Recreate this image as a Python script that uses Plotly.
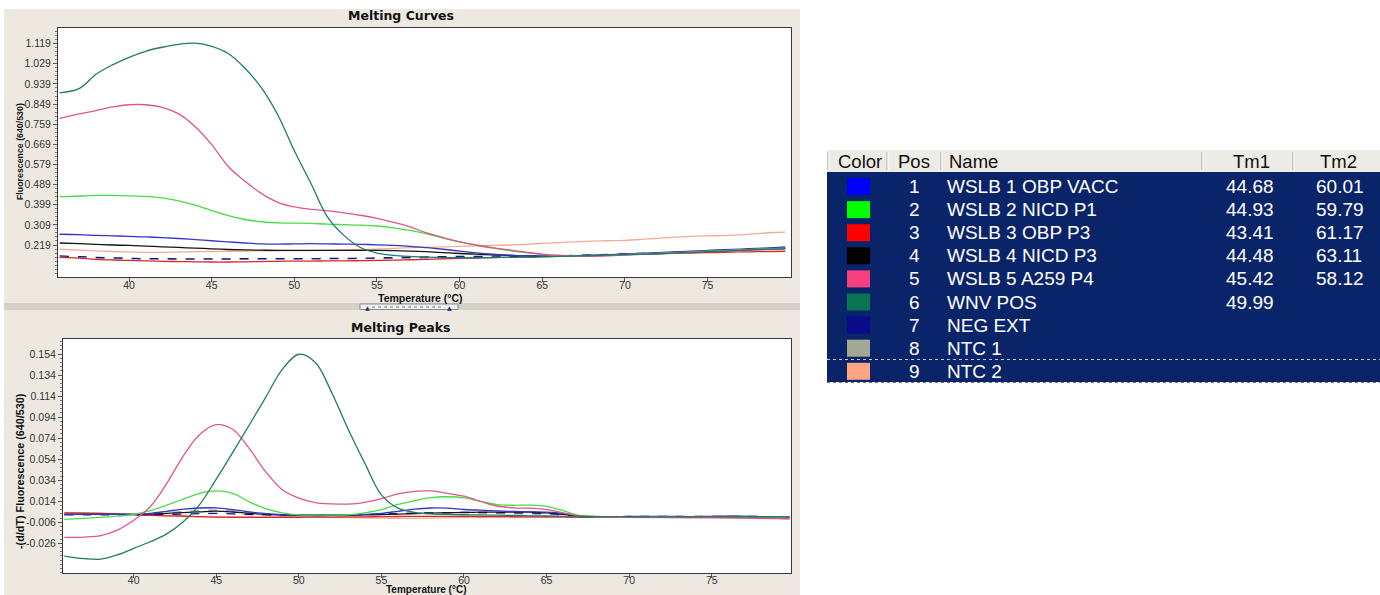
import plotly.graph_objects as go

# ---------------------------------------------------------------- data
temps = [35.8, 37, 38, 39, 40, 41, 42, 43, 44, 45,
         46, 47, 48, 49, 50, 51, 52, 53, 54, 55,
         56, 57, 58, 59, 60, 61, 62, 63, 64, 65,
         66, 67, 68, 69, 70, 71, 72, 73, 74, 75,
         76, 77, 78, 79, 79.7]

sample_pos = [1, 2, 3, 4, 5, 6, 7, 8, 9]
sample_names = ["WSLB 1 OBP VACC", "WSLB 2 NICD P1", "WSLB 3 OBP P3",
                "WSLB 4 NICD P3", "WSLB 5 A259 P4", "WNV POS",
                "NEG EXT", "NTC 1", "NTC 2"]
tm1_values = ["44.68", "44.93", "43.41", "44.48", "45.42", "49.99", "", "", ""]
tm2_values = ["60.01", "59.79", "61.17", "63.11", "58.12", "", "", "", ""]

# fluorescence (640/530) melting curves
curve_obp_vacc = [0.267, 0.265, 0.262, 0.260, 0.258, 0.255, 0.252, 0.248, 0.243, 0.238,
                  0.233, 0.228, 0.224, 0.223, 0.224, 0.225, 0.224, 0.223, 0.222, 0.220,
                  0.217, 0.213, 0.207, 0.200, 0.192, 0.184, 0.178, 0.174, 0.171, 0.170,
                  0.170, 0.171, 0.173, 0.176, 0.179, 0.182, 0.185, 0.188, 0.191, 0.195,
                  0.198, 0.201, 0.204, 0.207, 0.210]
curve_nicd_p1 = [0.434, 0.438, 0.441, 0.441, 0.439, 0.436, 0.430, 0.416, 0.397, 0.373,
                 0.350, 0.333, 0.323, 0.318, 0.317, 0.316, 0.312, 0.310, 0.308, 0.304,
                 0.296, 0.284, 0.269, 0.250, 0.233, 0.217, 0.205, 0.194, 0.185, 0.177,
                 0.172, 0.170, 0.171, 0.173, 0.176, 0.179, 0.182, 0.185, 0.188, 0.191,
                 0.194, 0.197, 0.200, 0.203, 0.205]
curve_obp_p3 = [0.165, 0.160, 0.155, 0.152, 0.150, 0.148, 0.146, 0.145, 0.144, 0.143,
                0.143, 0.144, 0.145, 0.146, 0.147, 0.147, 0.148, 0.148, 0.149, 0.150,
                0.151, 0.153, 0.155, 0.157, 0.159, 0.161, 0.163, 0.164, 0.166, 0.167,
                0.169, 0.171, 0.173, 0.175, 0.177, 0.178, 0.180, 0.182, 0.183, 0.185,
                0.186, 0.188, 0.189, 0.190, 0.191]
curve_nicd_p3 = [0.228, 0.225, 0.222, 0.219, 0.217, 0.214, 0.211, 0.208, 0.205, 0.202,
                 0.199, 0.197, 0.196, 0.195, 0.195, 0.195, 0.195, 0.195, 0.195, 0.195,
                 0.194, 0.192, 0.189, 0.185, 0.181, 0.178, 0.175, 0.172, 0.170, 0.168,
                 0.168, 0.169, 0.171, 0.173, 0.176, 0.179, 0.182, 0.184, 0.187, 0.190,
                 0.193, 0.196, 0.199, 0.202, 0.205]
curve_a259 = [0.785, 0.805, 0.820, 0.836, 0.846, 0.846, 0.834, 0.805, 0.748, 0.668,
              0.570, 0.505, 0.450, 0.410, 0.389, 0.378, 0.372, 0.363, 0.352, 0.338,
              0.320, 0.300, 0.273, 0.252, 0.233, 0.219, 0.207, 0.197, 0.187, 0.178,
              0.172, 0.169, 0.169, 0.171, 0.174, 0.177, 0.180, 0.183, 0.186, 0.189,
              0.192, 0.195, 0.198, 0.201, 0.203]
curve_wnv = [0.899, 0.919, 0.982, 1.024, 1.058, 1.085, 1.103, 1.116, 1.121, 1.107,
             1.075, 1.010, 0.922, 0.800, 0.640, 0.495, 0.345, 0.262, 0.208, 0.183,
             0.173, 0.168, 0.165, 0.163, 0.162, 0.162, 0.163, 0.164, 0.165, 0.166,
             0.168, 0.170, 0.172, 0.174, 0.176, 0.178, 0.180, 0.183, 0.186, 0.189,
             0.192, 0.195, 0.198, 0.200, 0.202]
curve_neg_ext = [0.170, 0.167, 0.164, 0.162, 0.160, 0.158, 0.158, 0.157, 0.157, 0.157,
                 0.157, 0.158, 0.158, 0.158, 0.158, 0.158, 0.159, 0.159, 0.160, 0.161,
                 0.163, 0.164, 0.166, 0.167, 0.168, 0.168, 0.169, 0.169, 0.170, 0.170,
                 0.171, 0.173, 0.175, 0.177, 0.179, 0.182, 0.184, 0.187, 0.189, 0.192,
                 0.195, 0.197, 0.200, 0.203, 0.205]
curve_ntc1 = [0.163, 0.161, 0.159, 0.158, 0.157, 0.156, 0.156, 0.155, 0.155, 0.155,
              0.155, 0.155, 0.156, 0.156, 0.156, 0.157, 0.157, 0.157, 0.158, 0.158,
              0.159, 0.160, 0.161, 0.162, 0.162, 0.163, 0.164, 0.165, 0.166, 0.167,
              0.169, 0.171, 0.173, 0.175, 0.178, 0.180, 0.183, 0.185, 0.188, 0.191,
              0.194, 0.196, 0.199, 0.201, 0.203]
curve_ntc2 = [0.200, 0.196, 0.193, 0.190, 0.188, 0.186, 0.186, 0.188, 0.189, 0.190,
              0.191, 0.192, 0.193, 0.193, 0.194, 0.194, 0.195, 0.197, 0.199, 0.201,
              0.204, 0.207, 0.209, 0.211, 0.213, 0.215, 0.217, 0.219, 0.222, 0.226,
              0.230, 0.233, 0.236, 0.238, 0.240, 0.244, 0.249, 0.254, 0.258, 0.260,
              0.261, 0.264, 0.270, 0.275, 0.277]

# -(d/dT) fluorescence (640/530) melting peaks
peak_obp_vacc = [0.0015, 0.0015, 0.0015, 0.0015, 0.0015, 0.0025, 0.0045, 0.0065, 0.0076, 0.0077,
                 0.0060, 0.0040, 0.0022, 0.0012, 0.0009, 0.0010, 0.0011, 0.0013, 0.0016, 0.0025,
                 0.0045, 0.0065, 0.0076, 0.0074, 0.0062, 0.0055, 0.0048, 0.0043, 0.0040, 0.0037,
                 0.0025, 0.0002, -0.0006, -0.0006, -0.0005, -0.0004, -0.0004, -0.0005, -0.0006, -0.0003,
                 -0.0002, -0.0003, -0.0006, -0.0008, -0.0009]
peak_nicd_p1 = [-0.0032, -0.0022, -0.0013, -0.0002, 0.0015, 0.0050, 0.0104, 0.0160, 0.0215, 0.0238,
                0.0215, 0.0135, 0.0070, 0.0030, 0.0010, 0.0008, 0.0009, 0.0012, 0.0030, 0.0060,
                0.0110, 0.0145, 0.0175, 0.0183, 0.0172, 0.0140, 0.0108, 0.0102, 0.0104, 0.0092,
                0.0050, 0.0005, -0.0005, -0.0007, -0.0008, -0.0008, -0.0009, -0.0008, -0.0008, -0.0009,
                -0.0010, -0.0010, -0.0011, -0.0012, -0.0013]
peak_obp_p3 = [0.0030, 0.0028, 0.0024, 0.0020, 0.0012, 0.0006, 0.0002, 0.0000, -0.0006, -0.0010,
               -0.0012, -0.0013, -0.0013, -0.0012, -0.0012, -0.0011, -0.0010, -0.0009, -0.0008, -0.0006,
               -0.0005, -0.0004, -0.0003, -0.0003, -0.0004, -0.0005, -0.0006, -0.0007, -0.0008, -0.0008,
               -0.0009, -0.0010, -0.0010, -0.0010, -0.0010, -0.0011, -0.0011, -0.0012, -0.0012, -0.0012,
               -0.0014, -0.0016, -0.0020, -0.0023, -0.0025]
peak_nicd_p3 = [0.0015, 0.0015, 0.0015, 0.0015, 0.0015, 0.0018, 0.0025, 0.0033, 0.0040, 0.0046,
                0.0038, 0.0025, 0.0015, 0.0009, 0.0005, 0.0004, 0.0005, 0.0007, 0.0010, 0.0014,
                0.0018, 0.0022, 0.0027, 0.0031, 0.0034, 0.0036, 0.0037, 0.0038, 0.0036, 0.0030,
                0.0015, -0.0003, -0.0008, -0.0009, -0.0009, -0.0010, -0.0010, -0.0009, -0.0009, -0.0010,
                -0.0011, -0.0011, -0.0012, -0.0013, -0.0014]
peak_a259 = [-0.0203, -0.0200, -0.0187, -0.0135, -0.0040, 0.0088, 0.0310, 0.0570, 0.0775, 0.0868,
             0.0825, 0.0640, 0.0420, 0.0250, 0.0170, 0.0128, 0.0115, 0.0113, 0.0130, 0.0165,
             0.0210, 0.0235, 0.0238, 0.0215, 0.0188, 0.0140, 0.0095, 0.0078, 0.0074, 0.0060,
             0.0030, 0.0000, -0.0010, -0.0012, -0.0013, -0.0013, -0.0014, -0.0014, -0.0015, -0.0016,
             -0.0017, -0.0018, -0.0020, -0.0022, -0.0024]
peak_wnv = [-0.0381, -0.0405, -0.0410, -0.0370, -0.0308, -0.0245, -0.0170, -0.0055, 0.0110, 0.0350,
            0.0605, 0.0865, 0.1130, 0.1395, 0.1538, 0.1460, 0.1170, 0.0820, 0.0500, 0.0200,
            0.0075, 0.0035, 0.0020, 0.0015, 0.0012, 0.0010, 0.0008, 0.0005, 0.0002, 0.0000,
            -0.0003, -0.0005, -0.0006, -0.0006, -0.0007, -0.0007, -0.0008, -0.0007, -0.0007, -0.0006,
            -0.0005, -0.0005, -0.0006, -0.0008, -0.0010]
peak_neg_ext = [0.0012, 0.0012, 0.0012, 0.0012, 0.0012, 0.0013, 0.0015, 0.0018, 0.0022, 0.0024,
                0.0020, 0.0014, 0.0010, 0.0008, 0.0008, 0.0009, 0.0010, 0.0012, 0.0014, 0.0017,
                0.0021, 0.0025, 0.0029, 0.0032, 0.0034, 0.0034, 0.0033, 0.0031, 0.0028, 0.0024,
                0.0012, -0.0002, -0.0006, -0.0006, -0.0005, -0.0005, -0.0004, -0.0004, -0.0003, -0.0003,
                -0.0003, -0.0004, -0.0005, -0.0007, -0.0008]
peak_ntc1 = [0.0018, 0.0017, 0.0016, 0.0016, 0.0016, 0.0020, 0.0030, 0.0042, 0.0052, 0.0056,
             0.0048, 0.0034, 0.0022, 0.0014, 0.0010, 0.0009, 0.0010, 0.0012, 0.0015, 0.0020,
             0.0026, 0.0030, 0.0032, 0.0032, 0.0030, 0.0027, 0.0024, 0.0022, 0.0020, 0.0016,
             0.0008, -0.0002, -0.0005, -0.0006, -0.0006, -0.0007, -0.0007, -0.0007, -0.0008, -0.0008,
             -0.0008, -0.0009, -0.0010, -0.0011, -0.0012]
peak_ntc2 = [0.0035, 0.0033, 0.0028, 0.0022, 0.0015, 0.0008, 0.0002, -0.0005, -0.0008, -0.0010,
             -0.0010, -0.0009, -0.0009, -0.0008, -0.0008, -0.0009, -0.0011, -0.0015, -0.0018, -0.0021,
             -0.0022, -0.0022, -0.0020, -0.0017, -0.0014, -0.0012, -0.0010, -0.0010, -0.0011, -0.0012,
             -0.0012, -0.0012, -0.0013, -0.0013, -0.0014, -0.0015, -0.0016, -0.0017, -0.0018, -0.0018,
             -0.0019, -0.0020, -0.0023, -0.0027, -0.0030]

curve_ticks = ["0.219", "0.309", "0.399", "0.489", "0.579", "0.669",
               "0.759", "0.849", "0.939", "1.029", "1.119"]
peak_ticks = ["-0.026", "-0.006", "0.014", "0.034", "0.054",
              "0.074", "0.094", "0.114", "0.134", "0.154"]
temp_ticks = ["40", "45", "50", "55", "60", "65", "70", "75"]

curves = [curve_obp_vacc, curve_nicd_p1, curve_obp_p3, curve_nicd_p3, curve_a259,
          curve_wnv, curve_neg_ext, curve_ntc1, curve_ntc2]
peaks = [peak_obp_vacc, peak_nicd_p1, peak_obp_p3, peak_nicd_p3, peak_a259,
         peak_wnv, peak_neg_ext, peak_ntc1, peak_ntc2]

# ---------------------------------------------------------------- styles
W, H = 1380, 595
line_colors = ["#3535c8", "#45dd45", "#d82828", "#151515", "#e0558e",
               "#217a69", "#14148c", "#9a9a9a", "#f2ab98"]
swatch_colors = ["#0000ff", "#00ff00", "#ff0000", "#000000", "#f8407f",
                 "#0a7552", "#0a0a8c", "#a2a894", "#ffa585"]
line_dash = ["solid", "solid", "solid", "solid", "solid",
             "solid", "dash", "dash", "solid"]
draw_order = [7, 8, 2, 6, 3, 0, 1, 4, 5]

PANEL = "#ede9e1"
NAVY = "#0a246a"
TXT = "Liberation Sans, Arial, sans-serif"


def fx(x):
    return x / W


def fy(y):
    return 1 - y / H


fig = go.Figure()

for i in draw_order:
    fig.add_trace(go.Scatter(
        x=temps, y=curves[i], mode="lines", name=sample_names[i],
        line=dict(color=line_colors[i], width=1.3, dash=line_dash[i],
                  shape="spline", smoothing=1.0),
        xaxis="x", yaxis="y", showlegend=False))
for i in draw_order:
    fig.add_trace(go.Scatter(
        x=temps, y=peaks[i], mode="lines", name=sample_names[i],
        line=dict(color=line_colors[i], width=1.3, dash=line_dash[i],
                  shape="spline", smoothing=1.0),
        xaxis="x2", yaxis="y2", showlegend=False))

axis_common = dict(showline=True, mirror=True, linecolor="#3a3a3a", linewidth=1,
                   ticks="outside", ticklen=4, tickcolor="#555555",
                   tickfont=dict(family=TXT, size=10.5, color="#333333"),
                   showgrid=False, zeroline=False, fixedrange=True)

temp_vals = [float(t) for t in temp_ticks]

fig.update_layout(
    width=W, height=H,
    margin=dict(l=0, r=0, t=0, b=0),
    paper_bgcolor="white", plot_bgcolor="rgba(0,0,0,0)",
    xaxis=dict(domain=[fx(58), fx(791)], range=[35.7, 80.05], anchor="y",
               tickmode="array", tickvals=temp_vals, ticktext=temp_ticks,
               ticklabelstandoff=-6, **axis_common),
    yaxis=dict(domain=[fy(277), fy(28)], range=[0.076, 1.189], anchor="x",
               tickmode="array", tickvals=[float(t) for t in curve_ticks],
               ticktext=curve_ticks,
               minor=dict(ticks="outside", ticklen=2, tickcolor="#777777",
                          tickmode="linear", tick0=0.219, dtick=0.018),
               **axis_common),
    xaxis2=dict(domain=[fx(63), fx(791)], range=[35.72, 79.8], anchor="y2",
                tickmode="array", tickvals=temp_vals, ticktext=temp_ticks,
                ticklabelstandoff=-7, **axis_common),
    yaxis2=dict(domain=[fy(573), fy(339)], range=[-0.0542, 0.1683], anchor="x2",
                tickmode="array", tickvals=[float(t) for t in peak_ticks],
                ticktext=peak_ticks,
                minor=dict(ticks="outside", ticklen=2, tickcolor="#777777",
                           tickmode="linear", tick0=0.014, dtick=0.004),
                **axis_common),
)

shapes = []
# window panels and white plotting areas
shapes.append(dict(type="rect", xref="paper", yref="paper", layer="below",
                   x0=fx(4), x1=fx(800), y0=fy(595), y1=fy(9),
                   fillcolor=PANEL, line=dict(width=0)))
shapes.append(dict(type="rect", xref="paper", yref="paper", layer="below",
                   x0=fx(58), x1=fx(791), y0=fy(277), y1=fy(28),
                   fillcolor="white", line=dict(width=0)))
shapes.append(dict(type="rect", xref="paper", yref="paper", layer="below",
                   x0=fx(63), x1=fx(791), y0=fy(573), y1=fy(339),
                   fillcolor="white", line=dict(width=0)))
# splitter between the two charts
shapes.append(dict(type="rect", xref="paper", yref="paper", layer="below",
                   x0=fx(4), x1=fx(800), y0=fy(310), y1=fy(303),
                   fillcolor="#d5d1c9", line=dict(width=0)))
shapes.append(dict(type="rect", xref="paper", yref="paper", layer="below",
                   x0=fx(360), x1=fx(458), y0=fy(309.5), y1=fy(304),
                   fillcolor="#f2f0ea", line=dict(color="#8a8a8a", width=1)))
shapes.append(dict(type="line", xref="paper", yref="paper",
                   x0=fx(372), x1=fx(444), y0=fy(307), y1=fy(307),
                   line=dict(color="#4a5aa0", width=0.8, dash="dot")))

# sample table
shapes.append(dict(type="rect", xref="paper", yref="paper", layer="below",
                   x0=fx(827), x1=fx(1380), y0=fy(172), y1=fy(150),
                   fillcolor="#ecebe5", line=dict(width=0)))
for xs in [828, 887, 941, 1202, 1293]:
    shapes.append(dict(type="line", xref="paper", yref="paper",
                       x0=fx(xs), x1=fx(xs), y0=fy(170), y1=fy(152),
                       line=dict(color="#aca899", width=1)))
    shapes.append(dict(type="line", xref="paper", yref="paper",
                       x0=fx(xs + 1), x1=fx(xs + 1), y0=fy(170), y1=fy(152),
                       line=dict(color="#ffffff", width=1)))
shapes.append(dict(type="rect", xref="paper", yref="paper", layer="below",
                   x0=fx(827), x1=fx(1380), y0=fy(382), y1=fy(172),
                   fillcolor=NAVY, line=dict(width=0)))
shapes.append(dict(type="line", xref="paper", yref="paper",
                   x0=fx(827), x1=fx(1380), y0=fy(359.5), y1=fy(359.5),
                   line=dict(color="#c8c8c8", width=1, dash="dot")))
shapes.append(dict(type="line", xref="paper", yref="paper",
                   x0=fx(827), x1=fx(1380), y0=fy(382.5), y1=fy(382.5),
                   line=dict(color="#707070", width=1, dash="dot")))

annotations = []
row_h = 23.1
row0 = 186.5
for i, name in enumerate(sample_names):
    yc = row0 + i * row_h
    shapes.append(dict(type="rect", xref="paper", yref="paper",
                       x0=fx(847), x1=fx(870), y0=fy(yc + 8.5), y1=fy(yc - 8.5),
                       fillcolor=swatch_colors[i], line=dict(width=0)))
    cells = [(str(sample_pos[i]), 922, "right"), (name, 945, "left"),
             (tm1_values[i], 1224, "left"), (tm2_values[i], 1314, "left")]
    for txt, xp, anc in cells:
        if txt:
            annotations.append(dict(xref="paper", yref="paper", x=fx(xp), y=fy(yc),
                                    text=txt, showarrow=False, xanchor=anc,
                                    yanchor="middle",
                                    font=dict(family=TXT, size=19, color="white")))

for txt, xp, anc in [("Color", 860, "center"), ("Pos", 914, "center"),
                     ("Name", 947, "left"), ("Tm1", 1251, "center"),
                     ("Tm2", 1338, "center")]:
    annotations.append(dict(xref="paper", yref="paper", x=fx(xp), y=fy(161.5),
                            text=txt, showarrow=False, xanchor=anc, yanchor="middle",
                            font=dict(family=TXT, size=18.5, color="#111111")))

# chart titles, axis titles and splitter arrows
title_font = dict(family="DejaVu Sans, Verdana, sans-serif", size=12.5,
                  color="#111111", weight="bold")
annotations.append(dict(xref="paper", yref="paper", x=fx(401), y=fy(15.5),
                        text="Melting Curves", showarrow=False, xanchor="center",
                        yanchor="middle", font=title_font))
annotations.append(dict(xref="paper", yref="paper", x=fx(401), y=fy(327),
                        text="Melting Peaks", showarrow=False, xanchor="center",
                        yanchor="middle", font=title_font))

axis_title_font = dict(family=TXT, size=10.5, color="#111111", weight="bold")
annotations.append(dict(xref="paper", yref="paper", x=fx(421), y=fy(297.5),
                        text="Temperature (°C)", showarrow=False, xanchor="center",
                        yanchor="middle", font=axis_title_font))
annotations.append(dict(xref="paper", yref="paper", x=fx(426), y=fy(589.5),
                        text="Temperature (°C)", showarrow=False, xanchor="center",
                        yanchor="middle",
                        font=dict(family=TXT, size=10, color="#111111", weight="bold")))
annotations.append(dict(xref="paper", yref="paper", x=fx(20), y=fy(152),
                        text="Fluorescence (640/530)", showarrow=False,
                        xanchor="center", yanchor="middle", textangle=-90,
                        font=dict(family=TXT, size=8.8, color="#111111", weight="bold")))
annotations.append(dict(xref="paper", yref="paper", x=fx(20), y=fy(471),
                        text="-(d/dT) Fluorescence (640/530)", showarrow=False,
                        xanchor="center", yanchor="middle", textangle=-90,
                        font=dict(family=TXT, size=10.8, color="#111111", weight="bold")))
for xa in [367, 449]:
    annotations.append(dict(xref="paper", yref="paper", x=fx(xa), y=fy(307),
                            text="▲", showarrow=False, xanchor="center",
                            yanchor="middle",
                            font=dict(family="DejaVu Sans", size=6, color="#1a2a8a")))

fig.update_layout(shapes=shapes, annotations=annotations)

fig.write_html("out.html")
